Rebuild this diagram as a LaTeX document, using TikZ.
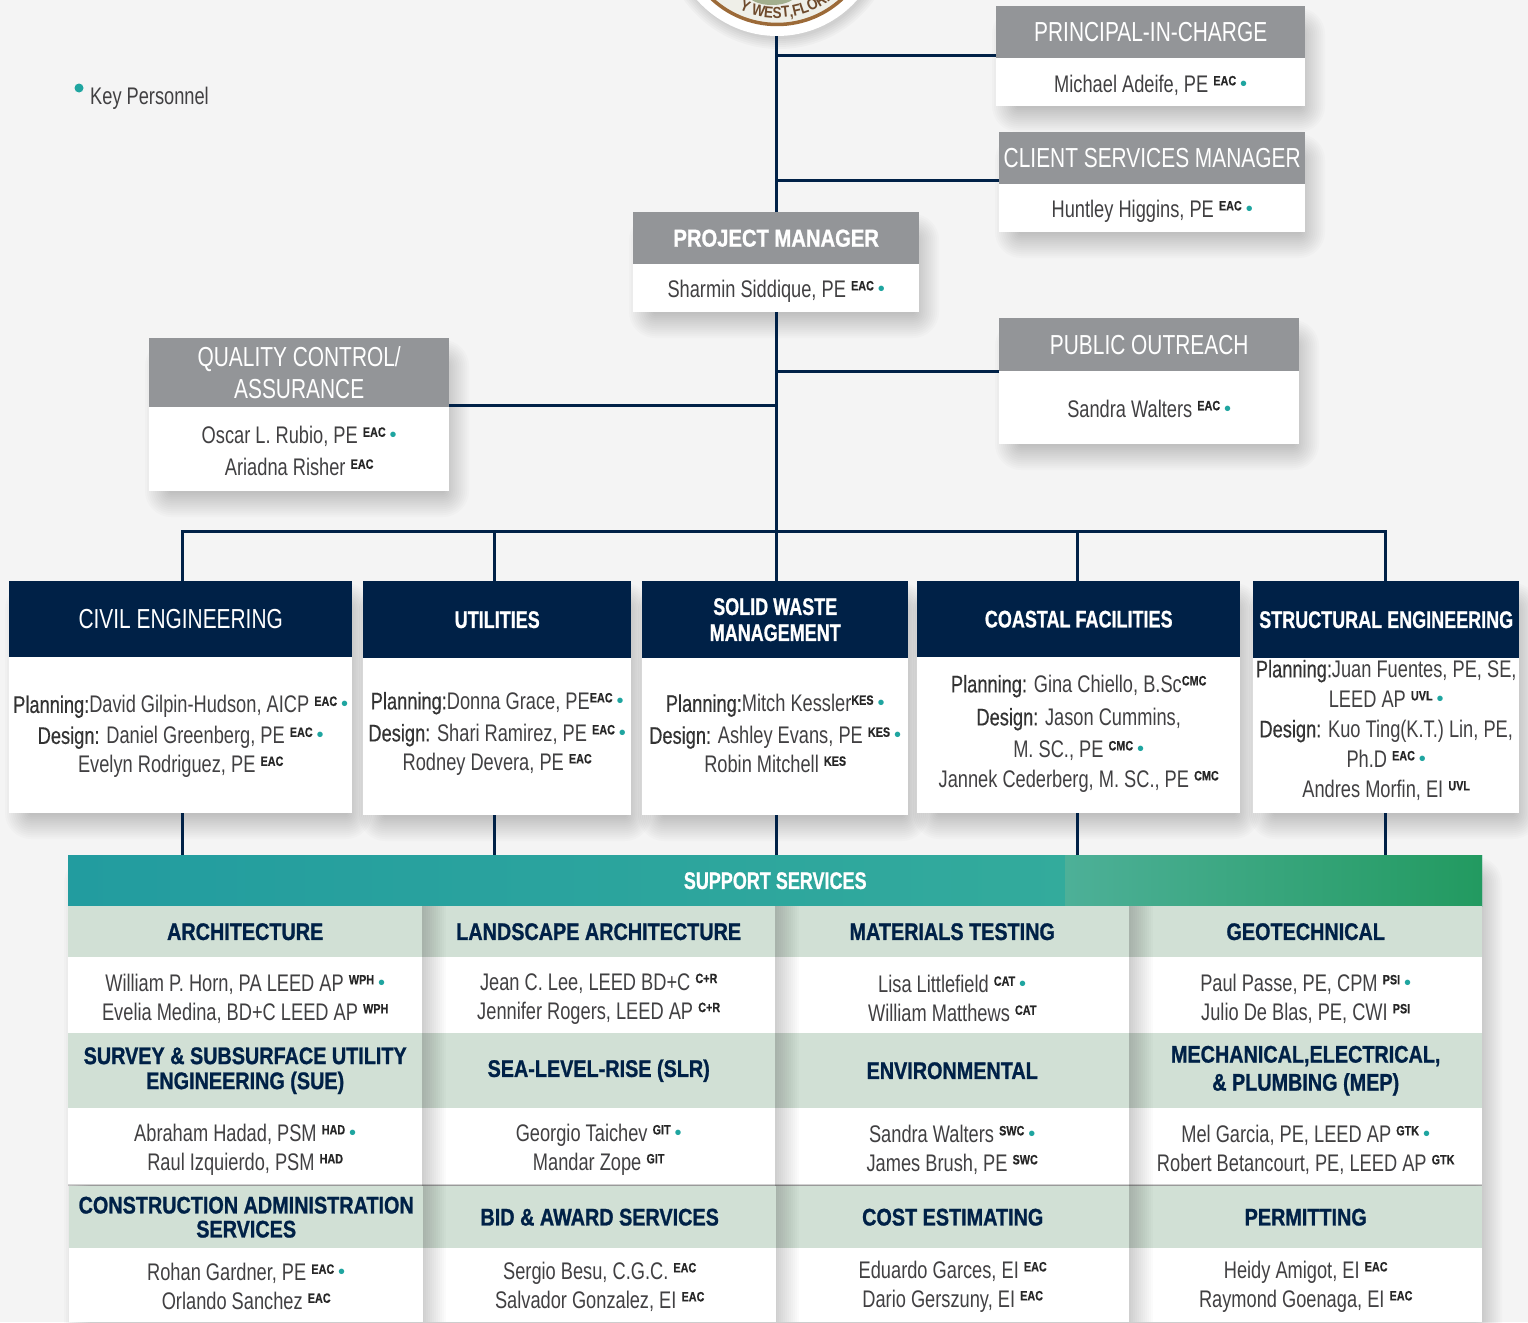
\documentclass[tikz,border=0pt]{standalone}
\usepackage{fontspec}
\setmainfont[FakeStretch=0.76]{Liberation Sans}
\newfontfamily\plainf{Liberation Sans}
\newfontfamily\medf[FakeStretch=0.76,FakeBold=0.4]{Liberation Sans}
\newfontfamily\navyf[FakeStretch=0.75,FakeBold=0.8]{Liberation Sans Bold}
\newfontfamily\tablef[FakeStretch=0.825,FakeBold=1.0]{Liberation Sans Bold}
\newfontfamily\afff[FakeStretch=0.80,FakeBold=0.5]{Liberation Sans Bold}
\newfontfamily\sealf[FakeStretch=0.85]{Liberation Sans Bold}
\usetikzlibrary{decorations.text,calc}
\definecolor{pagebg}{HTML}{F4F4F4}
\definecolor{navy}{HTML}{002147}
\definecolor{greyhead}{HTML}{939598}
\definecolor{palehead}{HTML}{D1E0D5}
\definecolor{txt}{HTML}{414042}
\definecolor{dotc}{HTML}{1FA5A0}
\definecolor{sealbg}{HTML}{EFEFE8}
\definecolor{sealbrown}{HTML}{6E4A2C}
\definecolor{ropec}{HTML}{9C6A38}
\definecolor{sealgreen}{HTML}{A3AF8E}
\definecolor{sshadeA}{HTML}{229C9F}
\definecolor{sshadeB}{HTML}{3AB19B}
\definecolor{sshadeC}{HTML}{4DB098}
\definecolor{sshadeD}{HTML}{55AE88}
\definecolor{sshadeE}{HTML}{229A60}
\newcommand{\aff}[1]{\raisebox{7pt}{\afff\fontsize{13.5}{13.5}\selectfont\color{black!85}#1}}
\newcommand{\kd}{\,{\plainf\fontsize{20}{20}\selectfont\color{dotc}\raisebox{2pt}{•}}}
\newcommand{\lbl}[1]{{\medf\color{black!80}#1}}
\newcommand{\bdy}{0pt}
\newcommand{\softshadow}[4]{%
  \foreach \g in {12,10,...,-14}{%
    \pgfmathsetmacro{\rr}{\g+14}
    \fill[black,opacity=.015,rounded corners=\rr pt] ({#1-\g+8},{#2-\g+14}) rectangle ({#3+\g+8},{#4+\g+14});}}
\newcommand{\colshadow}[3]{%
  \foreach \g in {24,22,...,2}{%
    \fill[black,opacity=.017] (#1,#2) rectangle ({#1+\g},#3);}}
\tikzset{
  x=1pt,y=-1pt,
  headbox/.style={anchor=north west,inner sep=0pt,align=center,text=white},
  greyb/.style={headbox,fill=greyhead,font=\fontsize{27.5}{32}\selectfont},
  greybb/.style={headbox,fill=greyhead,font=\fontsize{24.5}{26}\selectfont\tablef},
  navyb/.style={headbox,fill=navy,font=\fontsize{27.5}{26}\selectfont},
  navybb/.style={headbox,fill=navy,font=\fontsize{24}{26}\selectfont\navyf},
  bodyb/.style={anchor=north west,inner sep=0pt,fill=white},
  bodyt/.style={inner sep=0pt,align=center,text=txt,font=\fontsize{24}{30}\selectfont},
  tablet/.style={bodyt,font=\fontsize{24}{29}\selectfont},
  pale/.style={anchor=north west,inner sep=0pt,align=center,fill=palehead,text=navy,font=\fontsize{24}{25}\selectfont\tablef},
  link/.style={navy,line width=3pt},
}
% name, x, y, w, head h, body h, head style, head text, body text
\newcommand{\card}[9]{%
  \softshadow{#2}{#3}{#2+#4}{#3+#5+#6}
  \node[bodyb,minimum width=#4pt,minimum height=#6pt] (#1b) at (#2,#3+#5) {};
  \node[bodyt,yshift=\bdy] (#1t) at (#1b.center) {#9};
  \node[#7,minimum width=#4pt,minimum height=#5pt] (#1h) at (#2,#3) {#8};
}
% name, x, y, w, head h, body h, head text, body text
\newcommand{\tcell}[8]{%
  \node[pale,minimum width=#4pt,minimum height=#5pt] (#1h) at (#2,#3) {#7};
  \node[bodyb,minimum width=#4pt,minimum height=#6pt] (#1b) at (#2,#3+#5) {};
  \node[tablet,yshift=\bdy] (#1t) at (#1b.center) {#8};
}
\begin{document}
\begin{tikzpicture}
\useasboundingbox (0,0) rectangle (1528,1322);
\fill[pagebg] (0,0) rectangle (1528,1322);
\begin{scope}
\clip (0,0) rectangle (1528,1322);

% key
\node[circle,fill=dotc,minimum size=9pt,inner sep=0pt] (keydot) at (79,88) {};
\node[anchor=base west,inner sep=0pt,text=txt,font=\fontsize{24}{28}\selectfont] (keytext) at (90,104) {Key Personnel};

% seal
\foreach \g in {12,10,...,2}{\fill[black,opacity=.022] (779,-68) circle ({105+\g});}
\node[circle,fill=white,minimum size=214pt,inner sep=0pt] (seal) at (777,-71) {};
\fill[sealbg] (777,-71) circle (95);
\fill[sealgreen] (772,-6) ellipse (24 and 11);
\draw[ropec,line width=3.5pt] (777,-71) circle (95.5);
\path[postaction={decorate,decoration={text along path,text align=center,
   text={|\sealf\fontsize{16}{16}\selectfont\color{sealbrown}|Y WEST,FLORI}}}]
   (777,-71) ++(118:89) arc[start angle=118,end angle=50,radius=89];

% upper cards
\renewcommand{\bdy}{-3pt}
\card{prin}{996}{6}{309}{52}{48}{greyb}{PRINCIPAL-IN-CHARGE}{Michael Adeife, PE \aff{EAC}\kd}
\card{csm}{999}{132}{306}{52}{48}{greyb}{CLIENT SERVICES MANAGER}{Huntley Higgins, PE \aff{EAC}\kd}
\card{pm}{633}{212}{286}{52}{48}{greybb}{PROJECT MANAGER}{Sharmin Siddique, PE \aff{EAC}\kd}
\renewcommand{\bdy}{-2pt}
\card{qc}{149}{338}{300}{69}{84}{greyb}{QUALITY CONTROL/\\ASSURANCE}{Oscar L. Rubio, PE \aff{EAC}\kd\\[2pt]Ariadna Risher \aff{EAC}}
\renewcommand{\bdy}{-1pt}
\card{po}{999}{318}{300}{53}{73}{greyb}{PUBLIC OUTREACH}{Sandra Walters \aff{EAC}\kd}

% discipline cards
\renewcommand{\bdy}{-1.5pt}
\card{civil}{9}{581}{343}{76}{156}{navyb}{CIVIL ENGINEERING}{\lbl{Planning:}David Gilpin-Hudson, AICP \aff{EAC}\kd\\[1pt]\lbl{Design:} Daniel Greenberg, PE \aff{EAC}\kd\\[-1pt]Evelyn Rodriguez, PE \aff{EAC}}
\renewcommand{\bdy}{3pt}
\card{util}{363}{581}{268}{77}{157}{navybb}{UTILITIES}{\lbl{Planning:}Donna Grace, PE\aff{EAC}\kd\\[2pt]\lbl{Design:} Shari Ramirez, PE \aff{EAC}\kd\\[-1pt]Rodney Devera, PE \aff{EAC}}
\card{solid}{642}{581}{266}{77}{157}{navybb}{SOLID WASTE\\MANAGEMENT}{\lbl{Planning:}Mitch Kessler\aff{KES}\kd\\[2pt]\lbl{Design:} Ashley Evans, PE \aff{KES}\kd\\[-1pt]Robin Mitchell \aff{KES}}
\renewcommand{\bdy}{1.5pt}
\card{coast}{917}{581}{323}{76}{156}{navybb}{COASTAL FACILITIES}{\lbl{Planning:} Gina Chiello, B.Sc\aff{CMC}\\[3pt]\lbl{Design:} Jason Cummins,\\[2pt]M. SC., PE \aff{CMC}\kd\\Jannek Cederberg, M. SC., PE \aff{CMC}}
\renewcommand{\bdy}{5.5pt}
\card{struct}{1253}{581}{266}{77}{155}{navybb}{STRUCTURAL ENGINEERING}{\lbl{Planning:}Juan Fuentes, PE, SE,\\LEED AP \aff{UVL}\kd\\\lbl{Design:} Kuo Ting(K.T.) Lin, PE,\\Ph.D \aff{EAC}\kd\\Andres Morfin, EI \aff{UVL}}

% support services
\softshadow{68}{855}{1482}{1340}
\node[anchor=north west,inner sep=0pt,minimum width=1414pt,minimum height=51pt,left color=sshadeA,right color=sshadeB,text=white,font=\fontsize{24}{26}\selectfont\navyf] (support) at (68,855) {SUPPORT SERVICES};
\node[anchor=north west,inner sep=0pt,minimum width=417pt,minimum height=51pt,left color=sshadeC,middle color=sshadeD,right color=sshadeE] (supportr) at (1065,855) {};

% column 4
\newcommand{\rowa}{-3.5pt}\newcommand{\rowb}{-3pt}\newcommand{\rowc}{-1.5pt}
\renewcommand{\bdy}{\rowa}
\tcell{geo}{1129}{906}{353}{51}{76}{GEOTECHNICAL}{Paul Passe, PE, CPM \aff{PSI}\kd\\Julio De Blas, PE, CWI \aff{PSI}}
\renewcommand{\bdy}{\rowb}
\tcell{mep}{1129}{1033}{353}{75}{77}{MECHANICAL,ELECTRICAL,\\[3pt]\& PLUMBING (MEP)}{Mel Garcia, PE, LEED AP \aff{GTK}\kd\\Robert Betancourt, PE, LEED AP \aff{GTK}}
\renewcommand{\bdy}{\rowc}
\tcell{perm}{1129}{1186}{353}{62}{74}{PERMITTING}{Heidy Amigot, EI \aff{EAC}\\Raymond Goenaga, EI \aff{EAC}}
% column 3
\colshadow{1129}{906}{1322}
\renewcommand{\bdy}{\rowa}
\tcell{mat}{775}{906}{354}{51}{76}{MATERIALS TESTING}{Lisa Littlefield \aff{CAT}\kd\\William Matthews \aff{CAT}}
\renewcommand{\bdy}{\rowb}
\tcell{env}{775}{1033}{354}{75}{77}{ENVIRONMENTAL}{Sandra Walters \aff{SWC}\kd\\James Brush, PE \aff{SWC}}
\renewcommand{\bdy}{\rowc}
\tcell{cost}{776}{1186}{353}{62}{74}{COST ESTIMATING}{Eduardo Garces, EI \aff{EAC}\\Dario Gerszuny, EI \aff{EAC}}
% column 2
\colshadow{775}{906}{1322}
\renewcommand{\bdy}{\rowa}
\tcell{land}{422}{906}{353}{51}{76}{LANDSCAPE ARCHITECTURE}{Jean C. Lee, LEED BD+C \aff{C+R}\\Jennifer Rogers, LEED AP \aff{C+R}}
\renewcommand{\bdy}{\rowb}
\tcell{slr}{422}{1033}{353}{75}{77}{SEA-LEVEL-RISE (SLR)}{Georgio Taichev \aff{GIT}\kd\\Mandar Zope \aff{GIT}}
\renewcommand{\bdy}{\rowc}
\tcell{bid}{423}{1186}{353}{62}{74}{BID \& AWARD SERVICES}{Sergio Besu, C.G.C. \aff{EAC}\\Salvador Gonzalez, EI \aff{EAC}}
% column 1
\colshadow{422}{906}{1322}
\renewcommand{\bdy}{\rowa}
\tcell{arch}{68}{906}{354}{51}{76}{ARCHITECTURE}{William P. Horn, PA LEED AP \aff{WPH}\kd\\Evelia Medina, BD+C LEED AP \aff{WPH}}
\renewcommand{\bdy}{\rowb}
\tcell{sue}{68}{1033}{354}{75}{77}{SURVEY \& SUBSURFACE UTILITY\\ENGINEERING (SUE)}{Abraham Hadad, PSM \aff{HAD}\kd\\Raul Izquierdo, PSM \aff{HAD}}
\renewcommand{\bdy}{\rowc}
\tcell{cons}{69}{1186}{354}{62}{74}{CONSTRUCTION ADMINISTRATION\\[-1pt]SERVICES}{Rohan Gardner, PE \aff{EAC}\kd\\Orlando Sanchez \aff{EAC}}
\fill[black,opacity=.18] (68,1184) rectangle (1482,1186);

% connectors
\coordinate (tr) at (776,300);
\coordinate (cC) at (182,531);
\coordinate (cU) at (494,531);
\coordinate (cF) at (1077,531);
\coordinate (cS) at (1385,531);
\coordinate (ya) at (0,56);
\coordinate (yb) at (0,180);
\coordinate (yc) at (0,371);
\coordinate (yd) at (0,405);
\draw[link] (tr |- seal.south) -- (tr |- pmh.north);
\draw[link] (tr |- pmb.south) -- (tr |- solidh.north);
\draw[link] (tr |- ya) -- (prinh.west |- ya);
\draw[link] (tr |- yb) -- (csmh.west |- yb);
\draw[link] (tr |- yc) -- (poh.west |- yc);
\draw[link] (tr |- yd) -- (qcb.east |- yd);
\draw[link] (cC |- civilh.north) -- (cC) -- (cS) -- (cS |- structh.north);
\draw[link] (cU) -- (cU |- utilh.north);
\draw[link] (cF) -- (cF |- coasth.north);
\draw[link] (cC |- civilb.south) -- (cC |- support.north);
\draw[link] (cU |- utilb.south) -- (cU |- support.north);
\draw[link] (tr |- solidb.south) -- (tr |- support.north);
\draw[link] (cF |- coastb.south) -- (cF |- support.north);
\draw[link] (cS |- structb.south) -- (cS |- support.north);
\end{scope}
\end{tikzpicture}
\end{document}
